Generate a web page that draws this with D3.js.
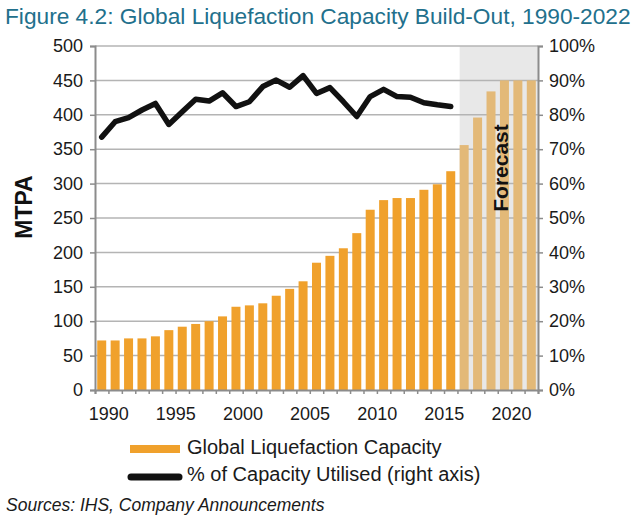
<!DOCTYPE html>
<html><head><meta charset="utf-8">
<script src="https://cdn.jsdelivr.net/npm/d3@7/dist/d3.min.js"></script>
<style>body{margin:0;background:#fff}svg{display:block;font-family:"Liberation Sans",Arial,sans-serif}</style>
</head><body>
<svg id="c" width="640" height="517"></svg>
<script>
const years = d3.range(1990, 2023);
const capacity = [72,72,75,75,78,87,92,96,100,107,121,123,126,137,147,158,185,195,206,228,262,276,279,279,291,299,318,356,396,434,450,450,450];
const forecastFrom = 2017;
const utilised = [73.5,78,79.2,81.4,83.3,77.2,80.9,84.5,84,86.4,82.4,83.8,88.2,90.1,88,91.4,86.2,87.9,83.8,79.5,85.3,87.4,85.3,85.1,83.5,82.9,82.4];
const leftTicks = d3.range(0, 501, 50);
const rightTicks = d3.range(0, 101, 10);
const labelYears = [1990,1995,2000,2005,2010,2015,2020];

const svg = d3.select("#c");
const L = 95, R = 538, T = 46, B = 390;
const x = d3.scaleBand().domain(years).range([L, R]).paddingInner(0.33).paddingOuter(0.165);
const xi = d3.scaleLinear().domain([0, years.length]).range([L, R]);
const y = d3.scaleLinear().domain([0, 500]).range([B, T]);
const y2 = d3.scaleLinear().domain([0, 100]).range([B, T]);

// title
svg.append("text").attr("x", 5).attr("y", 24).attr("font-size", 22.7).attr("fill", "#22708c")
  .text("Figure 4.2: Global Liquefaction Capacity Build-Out, 1990-2022");

// forecast shading
svg.append("rect").attr("x", x(forecastFrom)).attr("y", T).attr("width", R - x(forecastFrom)).attr("height", B - T).attr("fill", "#e8e8e8");

// gridlines
svg.append("g").selectAll("line").data(leftTicks.filter(d => d > 0)).join("line")
  .attr("x1", L).attr("x2", R).attr("y1", d => y(d)).attr("y2", d => y(d))
  .attr("stroke", "#b4b4b4").attr("stroke-width", 1.5);

// bars
svg.append("g").selectAll("rect").data(years.map((yr, i) => ({yr, v: capacity[i]}))).join("rect")
  .attr("x", d => x(d.yr)).attr("width", x.bandwidth())
  .attr("y", d => y(d.v)).attr("height", d => B - y(d.v))
  .attr("fill", d => d.yr >= forecastFrom ? "#e3b978" : "#f0a12c");

// forecast label
svg.append("text").attr("transform", `translate(${(x(2019) + x(2020) + x.bandwidth()) / 2 + 3},${168}) rotate(-90)`)
  .attr("text-anchor", "middle").attr("font-size", 21).attr("font-weight", "bold").attr("fill", "#111")
  .attr("dy", "0.35em").text("Forecast");

// line
const line = d3.line().x((d, i) => x(years[i]) + x.bandwidth() / 2).y(d => y2(d));
svg.append("path").datum(utilised).attr("d", line).attr("fill", "none")
  .attr("stroke", "#111").attr("stroke-width", 5.5).attr("stroke-linejoin", "round").attr("stroke-linecap", "round");

// axes
const axisColor = "#8c8c8c";
const gl = svg.append("g").attr("transform", `translate(${L},0)`)
  .call(d3.axisLeft(y).tickValues(leftTicks).tickSize(5).tickPadding(7));
const gr = svg.append("g").attr("transform", `translate(${R},0)`)
  .call(d3.axisRight(y2).tickValues(rightTicks).tickSize(5).tickPadding(6).tickFormat(d => d + "%"));
const gb = svg.append("g").attr("transform", `translate(0,${B})`)
  .call(d3.axisBottom(xi).tickValues(d3.range(years.length + 1)).tickSize(4).tickFormat(""));
const gbl = svg.append("g").attr("transform", `translate(0,${B})`)
  .call(d3.axisBottom(x).tickValues(labelYears).tickSize(0).tickPadding(17));
gbl.select(".domain").remove();
gbl.selectAll("text").attr("dx", 7);
[gl, gr, gb].forEach(g => {
  g.select(".domain").attr("stroke", axisColor).attr("stroke-width", 2);
  g.selectAll(".tick line").attr("stroke", axisColor).attr("stroke-width", 1.5);
});
[gl, gr, gbl].forEach(g => g.selectAll("text").attr("font-size", 18).attr("fill", "#1a1a1a").attr("font-family", "Liberation Sans, Arial, sans-serif"));

// y axis title
svg.append("text").attr("transform", "translate(24,207) rotate(-90)").attr("text-anchor", "middle")
  .attr("dy", "0.35em").attr("font-size", 23).attr("font-weight", "bold").attr("fill", "#111").text("MTPA");

// legend
svg.append("rect").attr("x", 130).attr("y", 445).attr("width", 50).attr("height", 8).attr("fill", "#f0a12c");
svg.append("text").attr("x", 187).attr("y", 454).attr("font-size", 20).attr("fill", "#1a1a1a").text("Global Liquefaction Capacity");
svg.append("line").attr("x1", 131).attr("x2", 179).attr("y1", 477).attr("y2", 477)
  .attr("stroke", "#111").attr("stroke-width", 7).attr("stroke-linecap", "round");
svg.append("text").attr("x", 187).attr("y", 481).attr("font-size", 20).attr("fill", "#1a1a1a").text("% of Capacity Utilised (right axis)");

// source
svg.append("text").attr("x", 6).attr("y", 511).attr("font-size", 17.5).attr("font-style", "italic").attr("fill", "#1a1a1a")
  .text("Sources: IHS, Company Announcements");
</script>
</body></html>
